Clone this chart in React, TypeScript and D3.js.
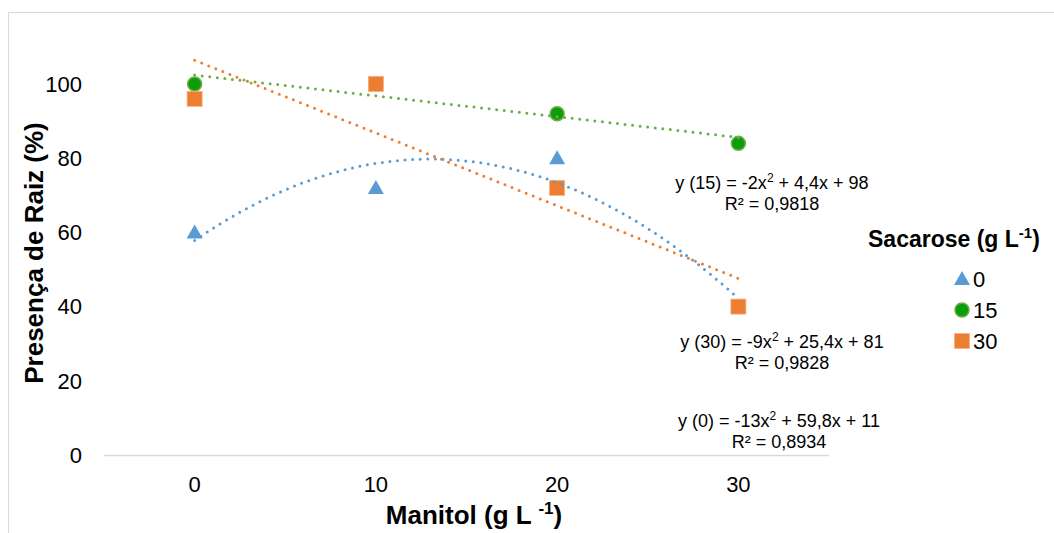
import * as d3 from "d3";

// Manitol doses (x) and Sacarose series
const manitol = [0, 10, 20, 30];
const sacarose = ["0", "15", "30"];
const sac0 = [60, 72, 80, 40];
const sac15 = [100, 100, 92, 84];
const sac30 = [96, 100, 72, 40];
const fitDegree = [2, 1, 1];
const equations = [
  ["y (0) = -13x", " + 59,8x + 11", "R² = 0,8934"],
  ["y (15) = -2x", " + 4,4x + 98", "R² = 0,9818"],
  ["y (30) = -9x", " + 25,4x + 81", "R² = 0,9828"],
];
const yTicks = [0, 20, 40, 60, 80, 100];

const colors = ["#5b9bd5", "#70ad47", "#ed7d31"];
const FONT = "'Liberation Sans', Arial, sans-serif";

// least squares polynomial fit, returns coefficients c0..cn
function polyfit(xs: number[], ys: number[], deg: number): number[] {
  const n = deg + 1;
  const A: number[][] = [];
  for (let i = 0; i < n; i++) {
    A.push([]);
    for (let j = 0; j < n; j++) A[i].push(d3.sum(xs, (x) => Math.pow(x, i + j)));
    A[i].push(d3.sum(xs, (x, k) => Math.pow(x, i) * ys[k]));
  }
  for (let i = 0; i < n; i++) {
    for (let r = i + 1; r < n; r++) {
      const f = A[r][i] / A[i][i];
      for (let c = i; c <= n; c++) A[r][c] -= f * A[i][c];
    }
  }
  const c = new Array(n).fill(0);
  for (let i = n - 1; i >= 0; i--) {
    let s = A[i][n];
    for (let j = i + 1; j < n; j++) s -= A[i][j] * c[j];
    c[i] = s / A[i][i];
  }
  return c;
}

export default function App() {
  const width = 1054;
  const height = 533;
  const x = d3.scaleLinear().domain([-5, 35]).range([104, 829]);
  const y = d3.scaleLinear().domain([0, 100]).range([455, 84]);

  const series = [sac0, sac15, sac30];
  const line = d3.line<[number, number]>().x((d) => x(d[0])).y((d) => y(d[1]));

  const trends = series.map((vals, i) => {
    const c = polyfit(manitol, vals, fitDegree[i]);
    const pts: [number, number][] = d3.range(0, 30.01, 0.5).map((t) => [
      t,
      c.reduce((s, ci, k) => s + ci * Math.pow(t, k), 0),
    ]);
    return line(pts) || "";
  });

  const marker = (i: number, cx: number, cy: number, key: string) => {
    if (i === 0)
      return (
        <path key={key} d={`M${cx},${cy - 8} L${cx + 8},${cy + 6} L${cx - 8},${cy + 6} Z`} fill={colors[0]} />
      );
    if (i === 1)
      return <circle key={key} cx={cx} cy={cy} r={7} fill="#0a9e0a" stroke="#70ad47" strokeWidth={1.5} />;
    return <rect key={key} x={cx - 7.5} y={cy - 7.5} width={15} height={15} fill={colors[2]} stroke="#f4b183" strokeWidth={0.8} />;
  };

  const eqPos = [
    [779, 427],
    [772, 189],
    [782, 348],
  ];

  return (
    <svg width={width} height={height} style={{ position: "absolute", left: 0, top: 0, fontFamily: FONT }}>
      <rect x={0} y={0} width={width} height={height} fill="#fff" />
      <rect x={8.5} y={12.5} width={1200} height={700} fill="none" stroke="#d9d9d9" />

      {/* y tick labels */}
      {yTicks.map((t) => (
        <text key={t} x={82} y={y(t)} dy="0.35em" textAnchor="end" fontSize={22} fill="#000">
          {t}
        </text>
      ))}
      {/* x axis */}
      <line x1={x(-5)} x2={x(35)} y1={455.5} y2={455.5} stroke="#d9d9d9" strokeWidth={1.5} />
      {manitol.map((m) => (
        <text key={m} x={x(m)} y={492} textAnchor="middle" fontSize={22} fill="#000">
          {m}
        </text>
      ))}

      {/* titles */}
      <text x={474} y={524} textAnchor="middle" fontSize={26} fontWeight="bold">
        Manitol (g L <tspan fontSize={17} dy={-10}>-1</tspan>
        <tspan dy={10}>)</tspan>
      </text>
      <text transform="translate(43,253) rotate(-90)" textAnchor="middle" fontSize={26} fontWeight="bold">
        Presença de Raiz (%)
      </text>

      {/* markers */}
      {series.map((vals, i) => vals.map((v, j) => marker(i, x(manitol[j]), y(v), `m${i}-${j}`)))}

      {/* trend lines */}
      {trends.map((d, i) => (
        <path key={i} d={d} fill="none" stroke={colors[i]} strokeWidth={3} strokeDasharray="0 7.6" strokeLinecap="round" />
      ))}

      {/* equations */}
      {equations.map((eq, i) => (
        <g key={i} fontSize={18} fill="#000">
          <text x={eqPos[i][0]} y={eqPos[i][1]} textAnchor="middle">
            {eq[0]}
            <tspan fontSize={12} dy={-7}>2</tspan>
            <tspan dy={7}>{eq[1]}</tspan>
          </text>
          <text x={eqPos[i][0]} y={eqPos[i][1] + 21} textAnchor="middle">
            {eq[2]}
          </text>
        </g>
      ))}

      {/* legend */}
      <text x={868} y={247} fontSize={23} fontWeight="bold">
        Sacarose (g L<tspan fontSize={15} dy={-9}>-1</tspan>
        <tspan dy={9}>)</tspan>
      </text>
      {sacarose.map((s, i) => (
        <g key={s}>
          {marker(i, 962, 279 + i * 31, `l${i}`)}
          <text x={973} y={279 + i * 31} dy="0.36em" fontSize={22}>
            {s}
          </text>
        </g>
      ))}
    </svg>
  );
}
